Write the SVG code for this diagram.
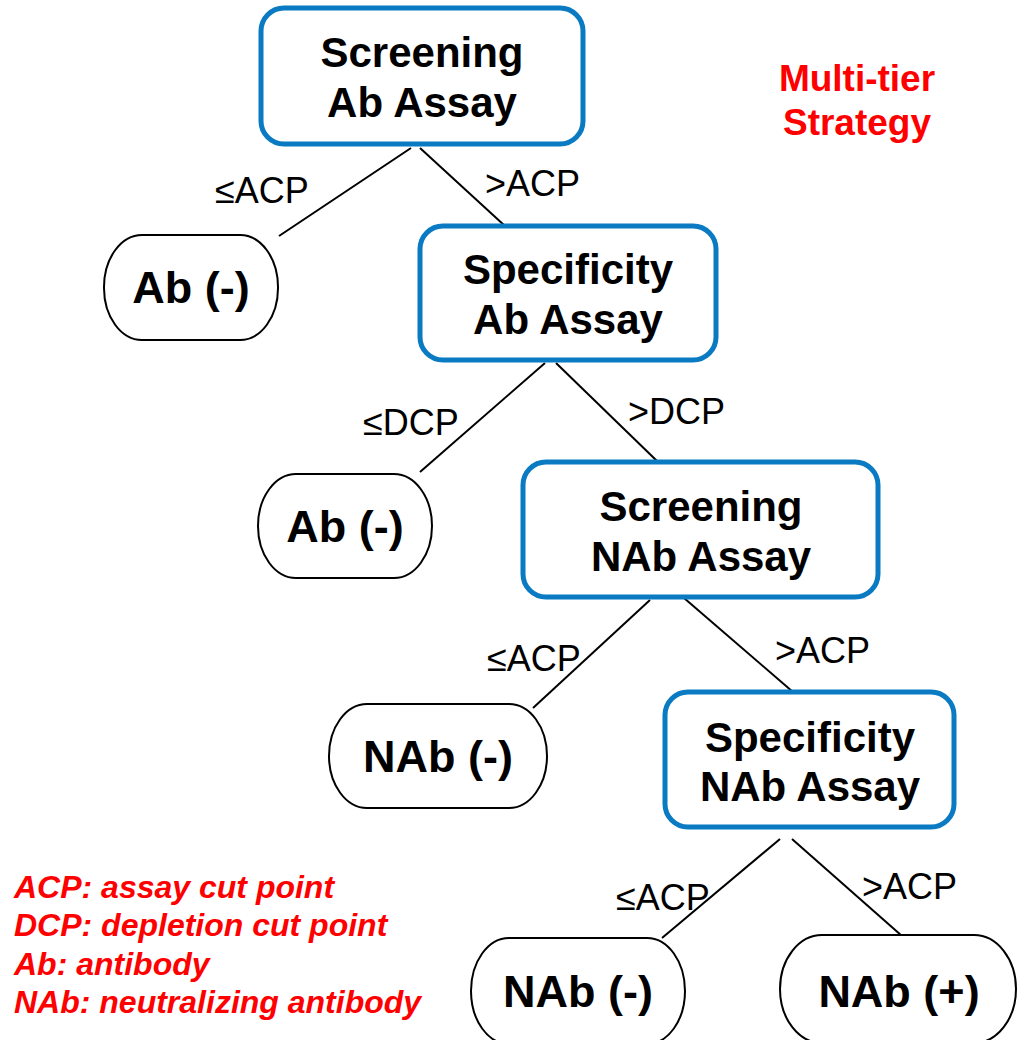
<svg xmlns="http://www.w3.org/2000/svg" width="1017" height="1040" viewBox="0 0 1017 1040">
  <style>
    .assay { fill: #ffffff; stroke: #0a7bc2; stroke-width: 5; }
    .result { fill: #ffffff; stroke: #000000; stroke-width: 2; }
    .assay-text { font-family: "Liberation Sans", Arial, sans-serif; font-size: 42px; font-weight: bold; fill: #000000; text-anchor: middle; }
    .result-text { font-family: "Liberation Sans", Arial, sans-serif; font-size: 45px; font-weight: bold; fill: #000000; text-anchor: middle; }
    .edge { stroke: #000000; stroke-width: 2; fill: none; }
    .edge-label { font-family: "Liberation Sans", Arial, sans-serif; font-size: 36px; fill: #000000; }
    .title { font-family: "Liberation Sans", Arial, sans-serif; font-size: 37px; font-weight: bold; fill: #ff0000; text-anchor: middle; }
    .legend { font-family: "Liberation Sans", Arial, sans-serif; font-size: 32px; font-weight: bold; font-style: italic; fill: #ff0000; }
  </style>

  <rect width="1017" height="1040" fill="#ffffff"/>

  <!-- decision edges -->
  <g id="connectors">
    <line class="edge" x1="411" y1="148" x2="279" y2="236"/>
    <line class="edge" x1="420" y1="148" x2="505" y2="226"/>
    <line class="edge" x1="545" y1="363" x2="420" y2="472"/>
    <line class="edge" x1="556" y1="363" x2="657" y2="461"/>
    <line class="edge" x1="650" y1="600" x2="533" y2="708"/>
    <line class="edge" x1="684" y1="598" x2="793" y2="692"/>
    <line class="edge" x1="780" y1="839" x2="662" y2="938"/>
    <line class="edge" x1="792" y1="839" x2="902" y2="936"/>
  </g>

  <g id="edge-labels">
    <text class="edge-label" x="215" y="203">≤ACP</text>
    <text class="edge-label" x="485" y="196">&gt;ACP</text>
    <text class="edge-label" x="363" y="435">≤DCP</text>
    <text class="edge-label" x="628" y="424">&gt;DCP</text>
    <text class="edge-label" x="487" y="671">≤ACP</text>
    <text class="edge-label" x="775" y="663">&gt;ACP</text>
    <text class="edge-label" x="616" y="910">≤ACP</text>
    <text class="edge-label" x="862" y="899">&gt;ACP</text>
  </g>

  <!-- assay steps -->
  <g id="screening-ab">
    <rect class="assay" x="261" y="8" width="322" height="136" rx="23" ry="23"/>
    <text class="assay-text" x="422" y="67">Screening</text>
    <text class="assay-text" x="422" y="117">Ab Assay</text>
  </g>
  <g id="specificity-ab">
    <rect class="assay" x="420" y="226" width="296" height="134" rx="23" ry="23"/>
    <text class="assay-text" x="568" y="284">Specificity</text>
    <text class="assay-text" x="568" y="334">Ab Assay</text>
  </g>
  <g id="screening-nab">
    <rect class="assay" x="523" y="462" width="355" height="135" rx="23" ry="23"/>
    <text class="assay-text" x="701" y="521">Screening</text>
    <text class="assay-text" x="701" y="571">NAb Assay</text>
  </g>
  <g id="specificity-nab">
    <rect class="assay" x="665" y="692" width="289" height="135" rx="23" ry="23"/>
    <text class="assay-text" x="810" y="752">Specificity</text>
    <text class="assay-text" x="810" y="801">NAb Assay</text>
  </g>

  <!-- outcomes -->
  <g id="ab-negative-1">
    <rect class="result" x="104" y="235" width="174" height="105" rx="38" ry="52"/>
    <text class="result-text" x="191" y="303">Ab (-)</text>
  </g>
  <g id="ab-negative-2">
    <rect class="result" x="258" y="474" width="174" height="104" rx="38" ry="52"/>
    <text class="result-text" x="345" y="542">Ab (-)</text>
  </g>
  <g id="nab-negative-1">
    <rect class="result" x="329" y="704" width="218" height="104" rx="38" ry="52"/>
    <text class="result-text" x="438" y="772">NAb (-)</text>
  </g>
  <g id="nab-negative-2">
    <rect class="result" x="471" y="938" width="214" height="106" rx="38" ry="53"/>
    <text class="result-text" x="578" y="1007">NAb (-)</text>
  </g>
  <g id="nab-positive">
    <rect class="result" x="780" y="935" width="236" height="108" rx="42" ry="54"/>
    <text class="result-text" x="899" y="1007">NAb (+)</text>
  </g>

  <g id="title">
    <text class="title" x="857" y="91">Multi-tier</text>
    <text class="title" x="857" y="135">Strategy</text>
  </g>

  <g id="legend">
    <text class="legend" x="14" y="898">ACP: assay cut point</text>
    <text class="legend" x="14" y="936">DCP: depletion cut point</text>
    <text class="legend" x="14" y="975">Ab: antibody</text>
    <text class="legend" x="14" y="1013">NAb: neutralizing antibody</text>
  </g>
</svg>
